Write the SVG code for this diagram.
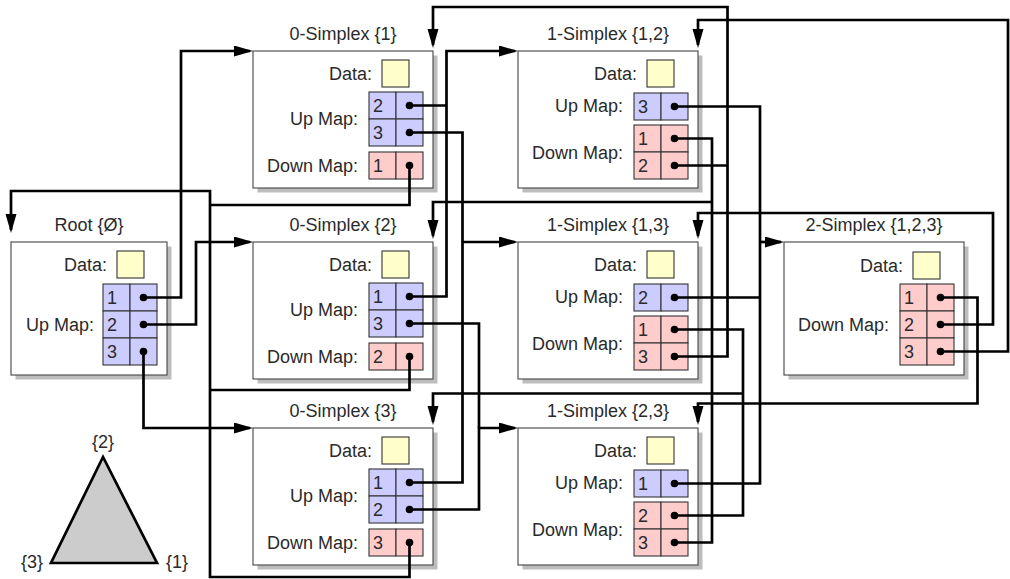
<svg xmlns="http://www.w3.org/2000/svg" width="1010" height="579" viewBox="0 0 1010 579">
<style>
text{font-family:"Liberation Sans",Arial,sans-serif;font-size:18px;fill:#2a2a2a}
.t{text-anchor:middle}
.l{text-anchor:end}
.sh{fill:#bdbdbd}
.bx{fill:#fff;stroke:#444;stroke-width:1.1}
.dt{fill:#ffffcc;stroke:#333;stroke-width:1.1}
.up{fill:#ccccff;stroke:#333;stroke-width:1.1}
.dn{fill:#ffcccc;stroke:#333;stroke-width:1.1}
.c path{fill:none;stroke:#000;stroke-width:2.7;stroke-linejoin:miter}
.c path.a{marker-end:url(#ah)}
.c circle{fill:#000}
</style>
<defs>
<marker id="ah" markerUnits="userSpaceOnUse" markerWidth="20" markerHeight="12" refX="16" refY="5.5" orient="auto">
<path d="M0,0 L19,5.5 L0,11 Z" fill="#000"/>
</marker>
</defs>

<g id="root">
<rect class="sh" x="15.5" y="246.5" width="156" height="133"/>
<rect class="bx" x="11" y="242" width="156" height="133"/>
<text class="t" x="89" y="231">Root {Ø}</text>
<text class="l" x="107" y="271">Data:</text>
<rect class="dt" x="117" y="251" width="27" height="27"/>
<text class="l" x="94" y="331">Up Map:</text>
<rect class="up" x="103" y="284" width="27" height="27"/><rect class="up" x="130" y="284" width="27" height="27"/>
<rect class="up" x="103" y="311" width="27" height="27"/><rect class="up" x="130" y="311" width="27" height="27"/>
<rect class="up" x="103" y="338" width="27" height="27"/><rect class="up" x="130" y="338" width="27" height="27"/>
<text x="107" y="304">1</text><text x="107" y="331">2</text><text x="107" y="358">3</text>
</g>

<g id="s0-1">
<rect class="sh" x="257.5" y="55.5" width="180" height="137"/>
<rect class="bx" x="253" y="51" width="180" height="137"/>
<text class="t" x="343" y="40">0-Simplex {1}</text>
<text class="l" x="372" y="80">Data:</text>
<rect class="dt" x="382" y="60" width="27" height="27"/>
<text class="l" x="358" y="125">Up Map:</text>
<rect class="up" x="369" y="92" width="27" height="27"/><rect class="up" x="396" y="92" width="27" height="27"/>
<rect class="up" x="369" y="119" width="27" height="27"/><rect class="up" x="396" y="119" width="27" height="27"/>
<text x="373" y="112">2</text><text x="373" y="139">3</text>
<text class="l" x="358" y="172">Down Map:</text>
<rect class="dn" x="369" y="152" width="27" height="27"/><rect class="dn" x="396" y="152" width="27" height="27"/>
<text x="373" y="172">1</text>
</g>

<g id="s0-2">
<rect class="sh" x="257.5" y="246.5" width="180" height="137"/>
<rect class="bx" x="253" y="242" width="180" height="137"/>
<text class="t" x="343" y="231">0-Simplex {2}</text>
<text class="l" x="372" y="271">Data:</text>
<rect class="dt" x="382" y="251" width="27" height="27"/>
<text class="l" x="358" y="316">Up Map:</text>
<rect class="up" x="369" y="283" width="27" height="27"/><rect class="up" x="396" y="283" width="27" height="27"/>
<rect class="up" x="369" y="310" width="27" height="27"/><rect class="up" x="396" y="310" width="27" height="27"/>
<text x="373" y="303">1</text><text x="373" y="330">3</text>
<text class="l" x="358" y="363">Down Map:</text>
<rect class="dn" x="369" y="343" width="27" height="27"/><rect class="dn" x="396" y="343" width="27" height="27"/>
<text x="373" y="363">2</text>
</g>

<g id="s0-3">
<rect class="sh" x="257.5" y="432.5" width="180" height="137"/>
<rect class="bx" x="253" y="428" width="180" height="137"/>
<text class="t" x="343" y="417">0-Simplex {3}</text>
<text class="l" x="372" y="457">Data:</text>
<rect class="dt" x="382" y="437" width="27" height="27"/>
<text class="l" x="358" y="502">Up Map:</text>
<rect class="up" x="369" y="469" width="27" height="27"/><rect class="up" x="396" y="469" width="27" height="27"/>
<rect class="up" x="369" y="496" width="27" height="27"/><rect class="up" x="396" y="496" width="27" height="27"/>
<text x="373" y="489">1</text><text x="373" y="516">2</text>
<text class="l" x="358" y="549">Down Map:</text>
<rect class="dn" x="369" y="529" width="27" height="27"/><rect class="dn" x="396" y="529" width="27" height="27"/>
<text x="373" y="549">3</text>
</g>

<g id="s1-12">
<rect class="sh" x="522.5" y="55.5" width="180" height="137"/>
<rect class="bx" x="518" y="51" width="180" height="137"/>
<text class="t" x="608" y="40">1-Simplex {1,2}</text>
<text class="l" x="637" y="80">Data:</text>
<rect class="dt" x="647" y="60" width="27" height="27"/>
<text class="l" x="623" y="112">Up Map:</text>
<rect class="up" x="634" y="93" width="27" height="27"/><rect class="up" x="661" y="93" width="27" height="27"/>
<text x="638" y="113">3</text>
<text class="l" x="623" y="159">Down Map:</text>
<rect class="dn" x="634" y="125" width="27" height="27"/><rect class="dn" x="661" y="125" width="27" height="27"/>
<rect class="dn" x="634" y="152" width="27" height="27"/><rect class="dn" x="661" y="152" width="27" height="27"/>
<text x="638" y="145">1</text><text x="638" y="172">2</text>
</g>

<g id="s1-13">
<rect class="sh" x="522.5" y="246.5" width="180" height="137"/>
<rect class="bx" x="518" y="242" width="180" height="137"/>
<text class="t" x="608" y="231">1-Simplex {1,3}</text>
<text class="l" x="637" y="271">Data:</text>
<rect class="dt" x="647" y="251" width="27" height="27"/>
<text class="l" x="623" y="303">Up Map:</text>
<rect class="up" x="634" y="284" width="27" height="27"/><rect class="up" x="661" y="284" width="27" height="27"/>
<text x="638" y="304">2</text>
<text class="l" x="623" y="350">Down Map:</text>
<rect class="dn" x="634" y="316" width="27" height="27"/><rect class="dn" x="661" y="316" width="27" height="27"/>
<rect class="dn" x="634" y="343" width="27" height="27"/><rect class="dn" x="661" y="343" width="27" height="27"/>
<text x="638" y="336">1</text><text x="638" y="363">3</text>
</g>

<g id="s1-23">
<rect class="sh" x="522.5" y="432.5" width="180" height="137"/>
<rect class="bx" x="518" y="428" width="180" height="137"/>
<text class="t" x="608" y="417">1-Simplex {2,3}</text>
<text class="l" x="637" y="457">Data:</text>
<rect class="dt" x="647" y="437" width="27" height="27"/>
<text class="l" x="623" y="489">Up Map:</text>
<rect class="up" x="634" y="470" width="27" height="27"/><rect class="up" x="661" y="470" width="27" height="27"/>
<text x="638" y="490">1</text>
<text class="l" x="623" y="536">Down Map:</text>
<rect class="dn" x="634" y="502" width="27" height="27"/><rect class="dn" x="661" y="502" width="27" height="27"/>
<rect class="dn" x="634" y="529" width="27" height="27"/><rect class="dn" x="661" y="529" width="27" height="27"/>
<text x="638" y="522">2</text><text x="638" y="549">3</text>
</g>

<g id="s2-123">
<rect class="sh" x="788.5" y="246.5" width="180" height="133"/>
<rect class="bx" x="784" y="242" width="180" height="133"/>
<text class="t" x="874" y="231">2-Simplex {1,2,3}</text>
<text class="l" x="903" y="272">Data:</text>
<rect class="dt" x="913" y="252" width="27" height="27"/>
<text class="l" x="889" y="331">Down Map:</text>
<rect class="dn" x="900" y="284" width="27" height="27"/><rect class="dn" x="927" y="284" width="27" height="27"/>
<rect class="dn" x="900" y="311" width="27" height="27"/><rect class="dn" x="927" y="311" width="27" height="27"/>
<rect class="dn" x="900" y="338" width="27" height="27"/><rect class="dn" x="927" y="338" width="27" height="27"/>
<text x="904" y="304">1</text><text x="904" y="331">2</text><text x="904" y="358">3</text>
</g>

<g id="connectors" class="c">
<path class="a" d="M143.5,297.5 H181 V51 H250"/>
<path class="a" d="M143.5,324.5 H196 V242 H250"/>
<path class="a" d="M143.5,351.5 V428 H250"/>
<path d="M409.5,165.5 V205 H210"/>
<path d="M409.5,356.5 V390 H210"/>
<path class="a" d="M409.5,542.5 V577 H210 V191 H11 V230"/>
<path d="M409.5,105.5 H446.5"/>
<path class="a" d="M409.5,296.5 H446.5 V51 H515"/>
<path d="M409.5,132.5 H462.5 V242"/>
<path class="a" d="M409.5,482.5 H462.5 V242 H515"/>
<path d="M409.5,323.5 H479 V428"/>
<path class="a" d="M409.5,509.5 H479 V428 H515"/>
<path d="M674.5,106.5 H760 V483.5 H674.5"/>
<path d="M674.5,297.5 H760"/>
<path class="a" d="M760,242 H781"/>
<path d="M674.5,138.5 H712 V542.5 H674.5"/>
<path class="a" d="M712,202 H433 V236"/>
<path d="M674.5,165.5 H727.5"/>
<path class="a" d="M674.5,356.5 H727.5 V7 H433 V45"/>
<path d="M674.5,329.5 H743 V515.5 H674.5"/>
<path class="a" d="M743,393.5 H433 V422"/>
<path class="a" d="M940.5,297.5 H977.5 V403.5 H698 V422"/>
<path class="a" d="M940.5,324.5 H993 V213 H698 V236"/>
<path class="a" d="M940.5,351.5 H1008 V20 H698 V45"/>
<circle cx="143.5" cy="297.5" r="3.8"/><circle cx="143.5" cy="324.5" r="3.8"/><circle cx="143.5" cy="351.5" r="3.8"/>
<circle cx="409.5" cy="105.5" r="3.8"/><circle cx="409.5" cy="132.5" r="3.8"/><circle cx="409.5" cy="165.5" r="3.8"/>
<circle cx="409.5" cy="296.5" r="3.8"/><circle cx="409.5" cy="323.5" r="3.8"/><circle cx="409.5" cy="356.5" r="3.8"/>
<circle cx="409.5" cy="482.5" r="3.8"/><circle cx="409.5" cy="509.5" r="3.8"/><circle cx="409.5" cy="542.5" r="3.8"/>
<circle cx="674.5" cy="106.5" r="3.8"/><circle cx="674.5" cy="138.5" r="3.8"/><circle cx="674.5" cy="165.5" r="3.8"/>
<circle cx="674.5" cy="297.5" r="3.8"/><circle cx="674.5" cy="329.5" r="3.8"/><circle cx="674.5" cy="356.5" r="3.8"/>
<circle cx="674.5" cy="483.5" r="3.8"/><circle cx="674.5" cy="515.5" r="3.8"/><circle cx="674.5" cy="542.5" r="3.8"/>
<circle cx="940.5" cy="297.5" r="3.8"/><circle cx="940.5" cy="324.5" r="3.8"/><circle cx="940.5" cy="351.5" r="3.8"/>
</g>

<g id="triangle">
<polygon points="103,457 51,563 157,563" fill="#cccccc" stroke="#000" stroke-width="2.7"/>
<text class="t" x="103" y="448">{2}</text>
<text class="l" x="43" y="568">{3}</text>
<text x="166" y="568">{1}</text>
</g>
</svg>
